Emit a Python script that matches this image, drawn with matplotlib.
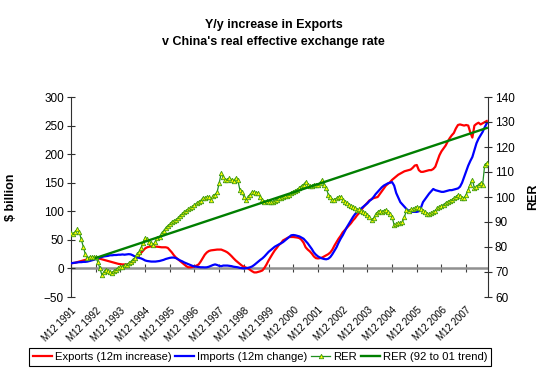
import numpy as np
import matplotlib
matplotlib.use("Agg")
import matplotlib.pyplot as plt
from matplotlib.lines import Line2D

plt.rcParams['font.family'] = ['Liberation Sans', 'DejaVu Sans']

# ---------------- data (monthly, starting M12 1991) ----------------
exports = [
    9, 9.5, 10, 11, 12, 13, 14, 15, 15.5, 16, 16.5, 17,
    17.5, 17.5, 17, 16, 15, 14, 13, 12, 11, 10, 9, 8,
    7.5, 7, 7, 7, 7.5, 8, 10, 14, 19, 23, 27, 31,
    35, 37, 38, 38.5, 38.5, 38, 38, 37.5, 37, 37, 37, 36,
    32, 28, 23, 19, 16, 13, 10, 7, 4, 2, 2, 2.5,
    3.5, 5, 7, 12, 18, 24, 28, 30.5, 31.6, 32, 32.5, 33,
    33, 33, 31.5, 30, 28, 25, 21.5, 17.6, 14, 11, 8, 5,
    3, 1.5, 0, -2.5, -5, -7, -7, -6, -5, -3.5, 1, 7,
    14, 20, 26, 31.6, 36, 41, 44, 49, 51, 53, 55, 55,
    55, 54.5, 54, 53, 50, 45, 37, 33, 30, 26, 21, 18,
    17.5, 18, 19, 21, 23, 25, 28, 33, 40, 46, 52, 57,
    63, 67, 71, 75, 79, 84, 88, 93, 97, 102, 107, 111,
    115, 119, 121, 123, 124, 125, 130, 135, 140, 145, 148, 151,
    155, 158, 161, 164, 166, 168, 170, 171, 172, 173, 176, 180,
    181, 172, 169, 169, 170, 171, 172, 172, 174, 178, 188, 198,
    205, 210, 215, 222, 228, 233, 237, 245, 251, 252, 251, 250,
    251, 250, 238, 229, 250, 253, 255, 252, 254, 256, 258,
]

imports = [
    9, 9.5, 10, 10.5, 11, 11, 11.5, 11.5, 12, 13, 14, 15,
    16.5, 18, 19, 20, 21, 21.5, 22, 23, 23, 23.5, 23.5, 24,
    24, 24.5, 24, 24.5, 25, 24.6, 23, 21, 19.5, 18.5, 17.6, 16,
    14, 13, 12.5, 12, 12, 12, 12.5, 13, 14, 15, 16.5, 17.6,
    18.5, 19, 19, 18, 16, 14, 12.5, 10.5, 9, 7.5, 6, 4.5,
    3.5, 3, 2.5, 2, 2, 1.8, 2, 3, 4.5, 6, 7, 6,
    4.5, 4, 5, 5, 5, 4.5, 4, 3, 2.5, 2, 1, 0.5,
    0, 0.5, 1, 2, 3.5, 6, 9, 12, 15, 17.6, 21, 25,
    29, 32, 35, 38, 40, 42, 44, 46, 49, 52, 55, 58,
    58.5, 58, 57, 56, 54, 52, 48, 44, 39, 34, 28, 24,
    21, 19, 17.5, 16.5, 16, 17, 20, 25, 31, 37, 45, 52,
    58, 65, 72, 78, 84, 90, 95, 99, 102, 105, 108, 111,
    114, 118, 121, 125, 130, 134, 138, 142, 145, 147, 149, 150,
    151, 145, 132, 124, 116, 112, 108, 104, 101, 100, 99, 99,
    99, 100, 106, 116, 121, 126, 131, 135, 139, 137, 136, 135,
    134, 134, 135, 136, 137, 137, 138, 139, 140, 143, 150, 160,
    170, 180, 188, 195, 207, 219, 227, 233, 239, 247, 254,
]

rer = [
    85.6, 85, 86, 87, 86, 83, 80, 77, 75.6, 76, 76, 76,
    76, 74, 71.6, 68.8, 70, 71, 70.5, 70, 69.6, 70.5, 71, 71.5,
    72, 72, 72.8, 73, 73.5, 74, 75, 75.6, 77, 78, 79.6, 81.5,
    83.6, 83, 82, 81.5, 80.8, 82, 83.5, 84, 85.5, 86.5, 87.6, 88.5,
    89, 90, 90.5, 90.8, 91.5, 92.5, 93, 94, 94.5, 95, 95.5, 96,
    96.8, 97.5, 98, 98.5, 99.6, 99.5, 100, 100, 99, 100.5, 101, 102,
    105.6, 109.6, 108, 107, 107, 107.5, 107, 106.5, 107.5, 107, 103, 102,
    100, 98.8, 100, 101, 102, 102, 101.5, 101.5, 100, 99, 98, 98.5,
    98, 98, 98, 98.5, 99, 99.6, 99.6, 100, 100.5, 100.5, 100.8, 101.5,
    102, 102.5, 103, 103.6, 104.5, 105, 106, 105, 104.4, 104.5, 105, 105,
    105, 105.5, 106.8, 105, 103.6, 101, 100, 98.8, 99, 99.5, 100, 100,
    99, 98, 97.6, 97, 96.5, 96, 95.5, 94.8, 95, 94.5, 94, 93.5,
    92.8, 92, 90.8, 91.5, 93, 94, 94.5, 94, 94.5, 94.8, 94, 93,
    92, 88.8, 89, 89.5, 89.5, 90, 92, 94.8, 94.5, 95, 95, 95.5,
    96, 95.5, 95, 94.5, 94, 93, 93, 93.5, 94, 94.5, 95.6, 96,
    96.5, 97, 97.6, 98, 98.5, 98.8, 99.5, 100, 100.8, 100.5, 99.6, 99.6,
    101, 103, 105, 106.8, 103.6, 104, 105, 105.6, 105, 112.8, 113.5,
]

trend_months = [12, 202]
trend_values = [75.6, 127.6]

tick_labels = ["M12 %d" % y for y in range(1991, 2008)]
tick_months = [12 * i for i in range(len(tick_labels))]

months = np.arange(len(exports))

# ---------------- figure ----------------
fig = plt.figure(figsize=(5.47, 3.74), dpi=100)
ax = fig.add_axes([71 / 547, 1 - 297 / 374, (488 - 71) / 547, (297 - 97) / 374])
ax2 = ax.twinx()

ylim_left = (-50, 300)
ylim_right = (60, 140)
ax.set_ylim(*ylim_left)
ax2.set_ylim(*ylim_right)
ax.set_xlim(0, len(exports) - 0.4)

# zero line
ax.axhline(0, color='#909090', lw=1.8, zorder=1)

ax.plot(months, exports, color='#FF0000', lw=1.6, zorder=3)
ax.plot(months, imports, color='#0000FF', lw=1.6, zorder=3)

rer_style = dict(color='#1F8F1F', lw=0.9, marker='^', ms=3.2,
                 mfc='#FFFF00', mec='#3C9A10', mew=0.6)
ax2.plot(months, rer, zorder=3, **rer_style)
ax2.plot(trend_months, trend_values, color='#007F00', lw=1.7, zorder=4)

# spines
for a in (ax, ax2):
    a.spines['top'].set_visible(False)
    a.spines['bottom'].set_visible(False)
ax.spines['right'].set_visible(False)
ax2.spines['left'].set_visible(False)
ax.spines['left'].set_color('#303030')
ax2.spines['right'].set_color('#303030')

ax.set_yticks(np.arange(-50, 301, 50))
ax2.set_yticks(np.arange(60, 141, 10))
ax.tick_params(axis='y', direction='inout', length=6, width=0.8,
               labelsize=8.5, pad=2, colors='#303030', labelcolor='black')
ax2.tick_params(axis='y', direction='inout', length=6, width=0.8,
                labelsize=8.5, pad=2, colors='#303030', labelcolor='black')

# x tick labels at the bottom, tick marks on the zero line
ax.set_xticks(tick_months)
ax.set_xticklabels(tick_labels, rotation=45, ha='right', va='top',
                   rotation_mode='anchor', fontsize=7)
ax.tick_params(axis='x', length=0, pad=6)

zero_frac = (0 - ylim_left[0]) / (ylim_left[1] - ylim_left[0])
sec = ax.secondary_xaxis(zero_frac)
sec.set_xticks(tick_months)
sec.tick_params(axis='x', direction='inout', length=6, width=0.8,
                colors='#404040', labelbottom=False, labeltop=False)
sec.spines['bottom'].set_visible(False)
sec.spines['top'].set_visible(False)

ax.set_ylabel('$ billion', fontsize=9, fontweight='bold')
ax.yaxis.set_label_coords(-(71 - 17) / 417, 0.5)
ax2.set_ylabel('RER', fontsize=9, fontweight='bold')
ax2.yaxis.set_label_coords((527 - 71) / 417, 0.5)

fig.text(0.5, 1 - 25 / 374, 'Y/y increase in Exports', ha='center', va='center',
         fontsize=9, fontweight='bold')
fig.text(0.5, 1 - 42 / 374, "v China's real effective exchange rate", ha='center',
         va='center', fontsize=9, fontweight='bold')

handles = [
    Line2D([], [], color='#FF0000', lw=1.6),
    Line2D([], [], color='#0000FF', lw=1.6),
    Line2D([], [], **rer_style),
    Line2D([], [], color='#007F00', lw=1.7),
]
labels = ['Exports (12m increase)', 'Imports (12m change)', 'RER',
          'RER (92 to 01 trend)']
leg = fig.legend(handles, labels, loc='center', bbox_to_anchor=(260 / 547, 1 - 357 / 374),
                 ncol=4, fontsize=8.1, handlelength=1.7, handletextpad=0.25,
                 columnspacing=0.35, borderpad=0.35, borderaxespad=0, fancybox=False,
                 edgecolor='black', framealpha=1)
leg.get_frame().set_linewidth(0.8)

fig.savefig('out.png', dpi=100)
